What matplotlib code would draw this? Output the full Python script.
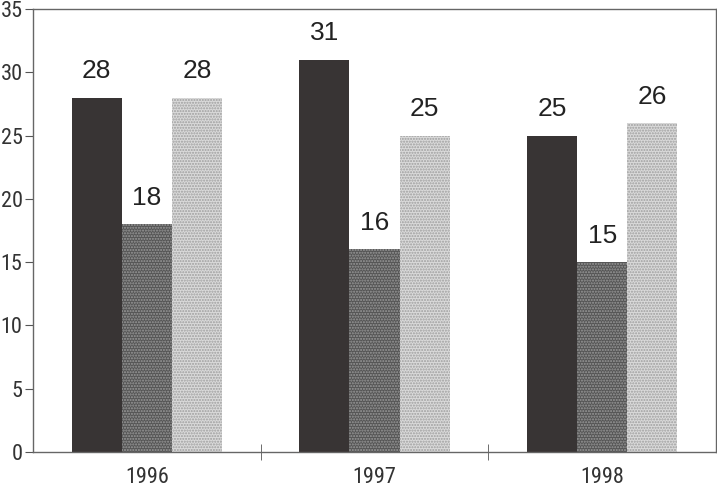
import matplotlib
matplotlib.use("Agg")
import matplotlib.pyplot as plt
from matplotlib import font_manager as fm
import numpy as np

years = ["1996", "1997", "1998"]
series_a = [28, 31, 25]
series_b = [18, 16, 15]
series_c = [28, 25, 26]
yticks = [0, 5, 10, 15, 20, 25, 30, 35]


def pick(names):
    for n in names:
        try:
            fm.findfont(fm.FontProperties(family=n), fallback_to_default=False)
            return n
        except Exception:
            pass
    return None


narrow = pick(["Liberation Sans Narrow", "Arial Narrow", "Roboto Condensed"])
if narrow:
    tick_family, tick_size = [narrow, "DejaVu Sans"], 16
else:
    tick_family, tick_size = ["Liberation Sans", "DejaVu Sans"], 13

plt.rcParams['hatch.linewidth'] = 1.0

fig = plt.figure(figsize=(7.17, 4.91), dpi=100)
ax = fig.add_axes([33/717, 39/491, 683/717, 443/491])

x = np.arange(len(years))
w = 0.22
styles = [
    dict(color="#383434", hatch=None, hc="#383434"),
    dict(color="#555555", hatch="......", hc="#9a9a9a"),
    dict(color="#dadada", hatch="......", hc="#9e9e9e"),
]
for i, (vals, st) in enumerate(zip([series_a, series_b, series_c], styles)):
    ax.bar(x + (i - 1) * w, vals, width=w, color=st["color"],
           hatch=st["hatch"], edgecolor=st["hc"], linewidth=0)
    for xi, v in zip(x + (i - 1) * w, vals):
        ax.annotate(str(v), (xi, v), xytext=(0, 19), textcoords="offset points",
                    ha="center", va="center", fontsize=19,
                    family=["Liberation Sans", "DejaVu Sans"], color="#222222")

ax.set_xlim(-0.5, 2.5)
ax.set_ylim(0, 35)
ax.set_yticks(yticks)
ax.set_yticklabels([str(t) for t in yticks], family=tick_family,
                   fontsize=tick_size, color="#333333")
ax.set_xticks(x)
ax.set_xticklabels(years, family=tick_family, fontsize=tick_size, color="#333333")
ax.tick_params(axis="x", length=0, pad=11)
ax.set_xticks([0.5, 1.5], minor=True)
ax.tick_params(axis="x", which="minor", direction="inout", length=12, color="#555555")
ax.tick_params(axis="y", direction="out", length=6, pad=1.5, color="#555555")
for s in ax.spines.values():
    s.set_color("#666666")
    s.set_linewidth(1.0)

fig.savefig("out.png", dpi=100)
